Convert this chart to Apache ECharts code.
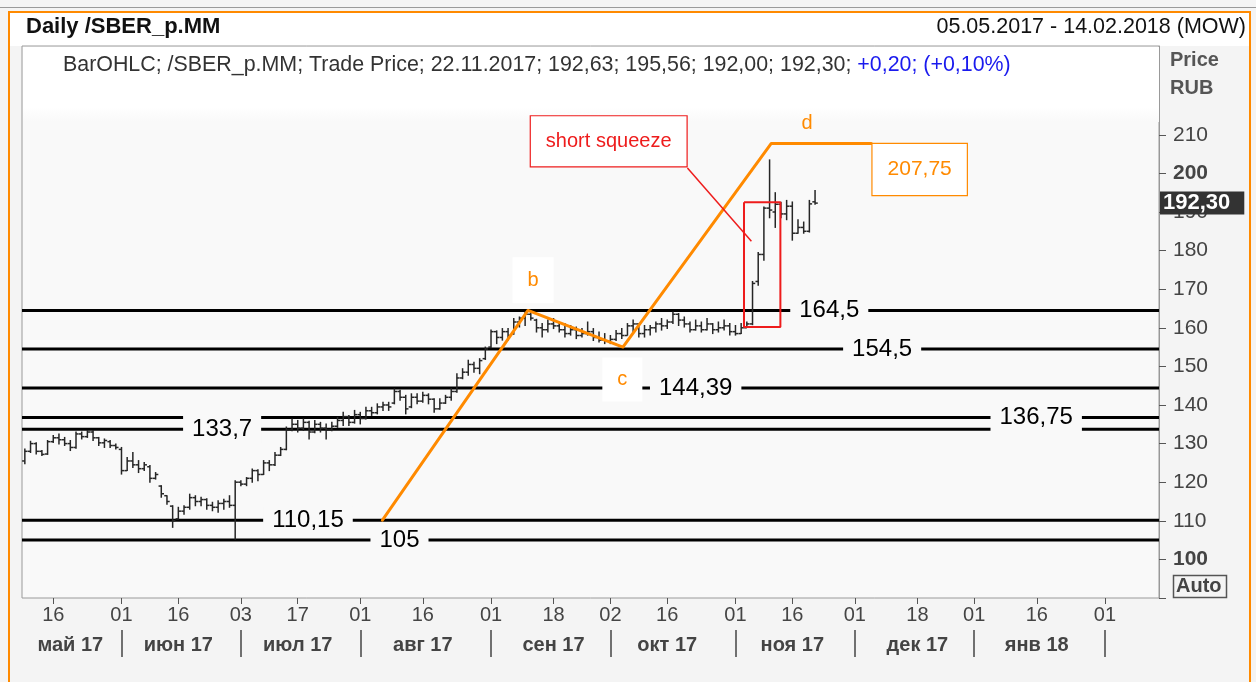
<!DOCTYPE html>
<html><head><meta charset="utf-8">
<script src="https://cdn.jsdelivr.net/npm/echarts@6/dist/echarts.min.js"></script>
<style>html,body{margin:0;padding:0;background:#f4f4f4}#c{width:1256px;height:682px}</style>
</head><body><div id="c"></div>
<script>
// ---------- DATA ----------
const holidays = ['2017-05-08', '2017-05-09', '2017-06-12', '2017-11-06'];
const firstDate = '2017-05-05';
const lastDate = '2018-02-14';

const openP = [125.5,128,130,128,127.3,130.5,131.5,131,130,129,132.5,131.8,133,131.5,130.2,130.5,129.5,128.5,123,125.5,
124.5,123.5,124,121,119,116.5,113.8,110.5,112.5,113.5,116,115,115.5,114,113.5,114.5,115,114,120,119.5,
121,123,122,125,124.5,127,128.5,133.5,135,134,135.5,133,135,134,133.5,134.5,136,137,135.5,137.5,
136.5,138.5,138,139.5,140,140.5,143.5,142,139.5,142,141,142.5,141.5,139,140.5,142,143.5,147,148.5,150.5,
149.5,152,155,159,157.5,159,158.5,161.5,162.5,163.5,162,160,159.5,161,160.5,159.5,158.5,159.5,158,158.5,
159,157.5,156.8,156.5,157,158.5,158,160.5,161,158.5,159.5,160,161,160.5,161.5,163.5,162,161,159.5,160.5,
159.5,161,159.5,160,160.5,159,158.5,160,161,172,179,191,190,192,189.5,191.5,184.5,186,185,192.63];
const highP = [128.6,130.6,130.2,128.2,130.8,132.1,132.5,131.6,130.8,133,133,133.4,133.4,131.6,131.2,130.8,129.9,129,126.4,127.7,
125.6,125.1,124.3,122.5,119.1,116.5,113.9,113.5,113.9,116.9,116.5,116.1,115.7,114.8,115.2,115.6,116.5,120.4,120.4,121.2,
123.4,123.2,125.6,125.6,127.7,129,134.3,136.4,136,136.4,135.8,136,135.5,135.1,135.5,136.8,138.1,137.3,138.6,138.1,
139.4,139.4,140.3,140.7,140.7,144.2,143.8,142.5,142.9,142.9,143.3,142.9,141.6,141.6,142.5,144.2,148.1,149.4,151.6,151.1,
152,155,159.4,159.2,159.8,159.8,162.4,162.8,164.1,164.5,162.2,161.1,162,162.4,161.5,161.1,160.6,160.2,159.8,161.5,
159.8,158.9,158.5,158,159.3,159.8,161.1,162,161.1,160.6,160.6,161.5,162.4,162,164.1,163.7,162.8,161.5,162,161.5,
162.4,161.1,161.5,162,161.1,160.6,161.1,161.5,172,179.5,191.3,203.5,195,192.5,193,192.6,188,187.4,193,195.56];
const lowP = [124.8,127.7,127.3,126.9,127.2,130.3,129.9,129.5,128.2,128.8,131.2,131.6,130.8,129.5,129,129,128.6,122.1,123,123.8,
122.5,123,120,120.8,116.1,114.3,108.3,110.4,111.7,113,113.9,113.9,113,112.6,112.2,113,113.5,105.2,119.1,119.1,
120,120.4,122,123,124.3,126.9,128.4,133.3,133,133.4,131.2,132.8,133,131.2,133.3,134.2,134.7,134.7,135.3,135.1,
136.4,137.3,137.7,138.6,138.6,140.3,141.2,137.7,139.3,140.3,140.7,140.3,138.1,138.9,140.4,141.2,143.3,146.8,147.7,148.5,
148.1,151.8,154.8,155.9,156.8,156.8,158.3,160.2,160.6,162,158.9,157.6,158.9,159.8,158.9,157.6,158.1,157.2,157.6,158.1,
156.7,156.3,155.9,155.9,156.7,157.2,158.1,158.9,157.6,157.6,158.1,158.9,159.4,159.8,161.1,160.6,160.2,158.9,159.4,158.9,
159.4,158.5,158.9,159.4,158.1,158.1,158.5,160.2,160.8,171,177.5,188.5,186,188.5,188,182.7,184.5,184.5,184.8,192.0];
const closeP = [128,130,128,127.2,130.5,131.5,131,130,129,132.5,131.8,133,131.5,130.2,130.8,129.5,129,123,125.5,124.5,
123.5,124.5,121,122,117,115,110,112.5,113.5,116,115,115.5,114,113.5,114.5,115,114,120,119.5,121,
123,122,125,124.5,127,128.5,133.5,135,134,135.5,133,135,134,133.5,134.5,136,137,135.5,137.5,136.5,
138.5,138,139.5,140,139.5,143.5,142,139,142,141,142.5,141.5,139,140.5,142,143.5,147,148.5,150.5,149.5,
151.5,154.5,159,157.5,159,158,161.5,162.5,163.5,162.5,160,159.5,161,160.5,159.5,158.5,159.5,158,158.5,159,
157.5,156.8,156.5,157,158.5,158,160.5,161,158.5,159.5,160,161,160.5,161.5,163.5,162,161,159.5,160.5,159.5,
161,159.5,160,160.5,159,158.5,160,161,171.5,179,191,190.5,192,189.5,191.5,184.5,186,185,192.1,192.30];

// x-axis labelling
const dayTickDates = ['2017-05-16','2017-06-01','2017-06-16','2017-07-03','2017-07-17','2017-08-01','2017-08-16',
  '2017-09-01','2017-09-18','2017-10-02','2017-10-16','2017-11-01','2017-11-16','2017-12-01','2017-12-18',
  '2018-01-01','2018-01-16','2018-02-01'];
const monthSepDates = ['2017-06-01','2017-07-03','2017-08-01','2017-09-01','2017-10-02','2017-11-01',
  '2017-12-01','2018-01-01','2018-02-01'];
const monthLabelDates = ['2017-05-19','2017-06-16','2017-07-17','2017-08-16','2017-09-18','2017-10-16',
  '2017-11-16','2017-12-18','2018-01-16'];
const monthNames = ['май 17','июн 17','июл 17','авг 17','сен 17','окт 17','ноя 17','дек 17','янв 18'];
const yTickValues = [90,100,110,120,130,140,150,160,170,180,190,200,210];
const yLabelValues = [100,110,120,130,140,150,160,170,180,190,200,210];

// horizontal levels (value, label text, bar-index where label sits)
const levelValues = [164.5, 154.5, 144.39, 136.75, 133.7, 110.15, 105];
const levelLabels = ['164,5', '154,5', '144,39', '136,75', '133,7', '110,15', '105'];
const levelLabelAt = [141.5, 150.8, 118.0, 177.9, 34.7, 49.8, 65.9];

// wave a-b-c-d (bar index, price)
const waveIdx = [62.9, 88.5, 105.2, 131.3, 148.9];
const waveVal = [110.15, 164.5, 155.0, 207.75, 207.75];
const waveTarget = '207,75';

// ---------- BUILD ----------
function buildDates() {
  const out = [];
  let t = Date.parse(firstDate + 'T00:00:00Z');
  const end = Date.parse(lastDate + 'T00:00:00Z');
  while (t <= end) {
    const d = new Date(t);
    const wd = d.getUTCDay();
    const s = d.toISOString().slice(0, 10);
    if (wd !== 0 && wd !== 6 && holidays.indexOf(s) < 0) out.push(s);
    t += 86400000;
  }
  return out;
}
const dates = buildDates();
const N = dates.length;
const ohlc = openP.map((o, i) => [i, o, highP[i], lowP[i], closeP[i]]);
const dayTickSet = new Set(dayTickDates);
const monthSepSet = new Set(monthSepDates);
const monthLabelMap = {};
monthLabelDates.forEach((d, i) => { monthLabelMap[d] = monthNames[i]; });

const FONT = 'Liberation Sans';
const ORANGE = '#ff8a00';
const RED = '#ee1c1c';
const PLOT_BG = '#f9f9f9';
const fmt = v => String(v).replace('.', ',');
const lastClose = closeP[closeP.length - 1];

function renderOHLC(params, api) {
  const i = api.value(0);
  const o = api.coord([i, api.value(1)]);
  const h = api.coord([i, api.value(2)]);
  const l = api.coord([i, api.value(3)]);
  const c = api.coord([i, api.value(4)]);
  const w = api.size([1, 0])[0] * 0.48;
  const st = { stroke: '#262626', lineWidth: 1.5 };
  return {
    type: 'group',
    children: [
      { type: 'line', shape: { x1: h[0], y1: h[1] - 0.5, x2: l[0], y2: l[1] + 0.5 }, style: st },
      { type: 'line', shape: { x1: o[0] - w, y1: o[1], x2: o[0], y2: o[1] }, style: st },
      { type: 'line', shape: { x1: c[0], y1: c[1], x2: c[0] + w, y2: c[1] }, style: st }
    ]
  };
}

const levelSeries = levelValues.map(v => ({
  type: 'line', xAxisIndex: 2, yAxisIndex: 0, silent: true, symbol: 'none', z: 2,
  data: [[-0.5, v], [N - 0.5, v]],
  lineStyle: { color: '#000', width: 3 }
}));

const chart = echarts.init(document.getElementById('c'), null, { renderer: 'canvas' });
chart.setOption({
  backgroundColor: '#f4f4f4',
  animation: false,
  textStyle: { fontFamily: FONT },
  grid: {
    left: 22, right: 97, top: 46, bottom: 84, show: true,
    borderColor: '#9a9a9a', borderWidth: 1, backgroundColor: PLOT_BG
  },
  xAxis: [
    {
      type: 'category', data: dates, boundaryGap: true, position: 'bottom',
      axisLine: { show: false, onZero: false },
      axisTick: { show: true, alignWithLabel: true, length: 6, interval: (i, v) => dayTickSet.has(v),
        lineStyle: { color: '#555', width: 1 } },
      axisLabel: { interval: (i, v) => dayTickSet.has(v), formatter: v => v.slice(8),
        fontSize: 20, color: '#444', margin: 7, fontFamily: FONT },
      splitLine: { show: false }
    },
    {
      type: 'category', data: dates, boundaryGap: true, position: 'bottom', offset: 32,
      axisLine: { show: false, onZero: false },
      axisTick: { show: true, alignWithLabel: true, length: 27, interval: (i, v) => monthSepSet.has(v),
        lineStyle: { color: '#444', width: 1.5 } },
      axisLabel: { interval: (i, v) => !!monthLabelMap[v], formatter: v => monthLabelMap[v] || '',
        fontSize: 20, fontWeight: 'bold', color: '#444', margin: 5, fontFamily: FONT },
      splitLine: { show: false }
    },
    { type: 'value', min: -0.5, max: N - 0.5, show: false, axisLine: { onZero: false } }
  ],
  yAxis: {
    type: 'value', position: 'right', min: 90, max: 233, interval: 10,
    axisLine: { show: true, onZero: false, lineStyle: { color: '#999', width: 1 } },
    axisTick: { show: true, length: 7, customValues: yTickValues, lineStyle: { color: '#555' } },
    axisLabel: {
      customValues: yLabelValues, margin: 14, fontSize: 21, color: '#444', fontFamily: FONT,
      formatter: v => (v === 100 || v === 200) ? '{b|' + v + '}' : String(v),
      rich: { b: { fontWeight: 'bold', fontSize: 21, color: '#444', fontFamily: FONT } }
    },
    splitLine: { show: false }
  },
  series: [
    ...levelSeries,
    {
      type: 'scatter', xAxisIndex: 2, symbolSize: 0, silent: true, z: 6, itemStyle: { opacity: 1 },
      data: levelLabelAt.map((x, i) => ({ value: [x, levelValues[i]], name: levelLabels[i] })),
      label: { show: true, position: 'inside', formatter: p => p.name, fontSize: 24, color: '#000',
        backgroundColor: PLOT_BG, padding: [2, 9], fontFamily: FONT }
    },
    {
      type: 'custom', xAxisIndex: 0, renderItem: renderOHLC, data: ohlc, z: 3,
      encode: { x: 0, y: [1, 2, 3, 4] }
    },
    {
      type: 'line', xAxisIndex: 2, silent: true, symbol: 'none', z: 4,
      data: waveIdx.map((x, i) => [x, waveVal[i]]),
      lineStyle: { color: ORANGE, width: 3, cap: 'round', join: 'round' }
    },
    // red squeeze rectangle
    {
      type: 'line', xAxisIndex: 2, silent: true, symbol: 'none', z: 5,
      data: [[126.5, 192.5], [132.9, 192.5], [132.9, 160.2], [126.5, 160.2], [126.5, 192.5]],
      lineStyle: { color: RED, width: 2 }
    },
    // connector from note to rectangle
    {
      type: 'line', xAxisIndex: 2, silent: true, symbol: 'none', z: 5,
      data: [[116.55, 201.4], [127.8, 182.4]],
      lineStyle: { color: RED, width: 1.5 }
    },
    // annotation labels
    {
      type: 'scatter', xAxisIndex: 2, symbolSize: 0, silent: true, z: 7, itemStyle: { opacity: 1 },
      data: [
        { value: [102.7, 208.3], name: 'short squeeze',
          label: { color: RED, backgroundColor: '#fff', borderColor: RED, borderWidth: 1.2, padding: [15, 15], fontSize: 20 } },
        { value: [157.4, 201.0], name: waveTarget,
          label: { color: ORANGE, backgroundColor: '#fff', borderColor: ORANGE, borderWidth: 1.2, padding: [15, 15], fontSize: 21 } },
        { value: [89.4, 172.3], name: 'b',
          label: { color: ORANGE, backgroundColor: '#fff', padding: [9, 15, 17, 15], fontSize: 20 } },
        { value: [105.1, 146.6], name: 'c',
          label: { color: ORANGE, backgroundColor: '#fff', padding: [12, 15, 12, 15], fontSize: 20 } },
        { value: [137.6, 212.9], name: 'd',
          label: { color: ORANGE, fontSize: 20 } }
      ],
      label: { show: true, position: 'inside', formatter: p => p.name, fontFamily: FONT }
    },
    // last price marker on the price scale
    {
      type: 'scatter', xAxisIndex: 2, symbolSize: 0, silent: true, z: 20, clip: false, itemStyle: { opacity: 1 },
      data: [[N - 0.5, lastClose]],
      label: { show: true, position: 'right', distance: 1, formatter: fmt(lastClose.toFixed(2)),
        backgroundColor: '#333', color: '#fff', fontWeight: 'bold', fontSize: 22,
        padding: [1, 14, 0, 3], fontFamily: FONT }
    }
  ],
  graphic: [
    { type: 'rect', silent: true, z: 1, shape: { x: 23, y: 47, width: 1136, height: 75 },
      style: { fill: new echarts.graphic.LinearGradient(0, 0, 0, 1, [
        { offset: 0, color: '#ffffff' }, { offset: 0.8, color: '#ffffff' }, { offset: 1, color: PLOT_BG }]) } },
    { type: 'rect', silent: true, z: -1, shape: { x: 10, y: 13, width: 1239, height: 33 }, style: { fill: '#ffffff' } },
    { type: 'line', silent: true, shape: { x1: 0, y1: 7.5, x2: 1256, y2: 7.5 }, style: { stroke: '#9a9a9a', lineWidth: 1 } },
    { type: 'polyline', silent: true, shape: { points: [[9, 690], [9, 12], [1250, 12], [1250, 690]] },
      style: { stroke: ORANGE, lineWidth: 2, fill: null } },
    { type: 'text', left: 26, top: 16, silent: true,
      style: { text: 'Daily /SBER_p.MM', font: 'bold 22px "Liberation Sans"', fill: '#111' } },
    { type: 'text', right: 10, top: 16, silent: true,
      style: { text: '05.05.2017 - 14.02.2018 (MOW)', font: '21.5px "Liberation Sans"', fill: '#111' } },
    { type: 'text', left: 63, top: 55, silent: true, z: 10,
      style: {
        text: '{a|BarOHLC; /SBER_p.MM; Trade Price; 22.11.2017; 192,63; 195,56; 192,00; 192,30; }{b|+0,20; (+0,10%)}',
        rich: { a: { fill: '#333', font: '21.4px "Liberation Sans"' }, b: { fill: '#1a1aee', font: '21.4px "Liberation Sans"' } }
      } },
    { type: 'text', left: 1170, top: 50, silent: true,
      style: { text: 'Price', font: 'bold 20px "Liberation Sans"', fill: '#555' } },
    { type: 'text', left: 1170, top: 78, silent: true,
      style: { text: 'RUB', font: 'bold 20px "Liberation Sans"', fill: '#555' } },
    { type: 'rect', silent: true, shape: { x: 1173.5, y: 575.5, width: 53, height: 22 },
      style: { fill: '#f4f4f4', stroke: '#555', lineWidth: 1.5 } },
    { type: 'text', left: 1176, top: 576, silent: true,
      style: { text: 'Auto', font: 'bold 20px "Liberation Sans"', fill: '#444' } }
  ]
});
</script></body></html>
